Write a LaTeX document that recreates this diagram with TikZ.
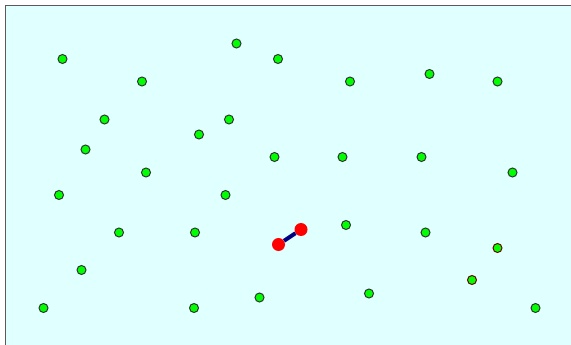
\documentclass[tikz,border=0pt]{standalone}
\usepackage{xcolor}
\usepackage{tikz}
\usetikzlibrary{backgrounds}

\definecolor{fieldbg}{HTML}{E0FFFF}
\definecolor{framegray}{HTML}{5A5A5A}

\begin{document}
\begin{tikzpicture}[
    x=1pt, y=-1pt,
    % Field styling
    field/.style={draw=framegray, line width=1.4pt, fill=fieldbg},
    % Site styling
    site/.style={circle, draw=black!80, line width=1pt, fill=green, inner sep=0pt, minimum size=9pt},
    hitsite/.style={site, draw=red!45!black},
    pick/.style={circle, draw=none, fill=red, inner sep=0pt, minimum size=13pt},
    % Link styling
    link/.style={draw=blue!50!black, line width=4pt}
]

% ---------------------------------------------------
% 1. FIELD (clipped to the picture size)
% ---------------------------------------------------
\useasboundingbox (0,0) rectangle (571,345);
\clip (0,0) rectangle (571,345);
\draw[field] (5.5,5.5) rectangle (590,360);

% ---------------------------------------------------
% 2. SITES (Placed at pixel coordinates)
% ---------------------------------------------------
\node[site] (s1) at (62.5,59) {};
\node[site] (s2) at (236.5,43.5) {};
\node[site] (s3) at (278,59) {};
\node[site] (s4) at (142,81.5) {};
\node[site] (s5) at (350,81.5) {};
\node[site] (s6) at (429.5,74) {};
\node[site] (s7) at (497.5,81.5) {};
\node[site] (s8) at (104.5,119.5) {};
\node[site] (s9) at (229,119.5) {};
\node[site] (s10) at (199,134.5) {};
\node[site] (s11) at (85.5,149.5) {};
\node[site] (s12) at (274.5,157) {};
\node[site] (s13) at (342.5,157) {};
\node[site] (s14) at (421.5,157) {};
\node[site] (s15) at (146,172.5) {};
\node[site] (s16) at (512.5,172.5) {};
\node[site] (s17) at (59,195) {};
\node[site] (s18) at (225.5,195) {};
\node[site] (s19) at (119,232.5) {};
\node[site] (s20) at (195,232.5) {};
\node[site] (s21) at (346,225) {};
\node[site] (s22) at (425.5,232.5) {};
\node[site] (s23) at (81.5,270) {};
\node[site] (s24) at (43.5,308) {};
\node[site] (s25) at (194,308) {};
\node[site] (s26) at (259.5,297.5) {};
\node[site] (s27) at (369,293.5) {};
\node[site] (s28) at (535.5,308) {};

% Sites with a red rim
\node[hitsite] (h1) at (497.5,248) {};
\node[hitsite] (h2) at (472,280) {};

% Picked pair
\node[pick] (pa) at (278.5,244.5) {};
\node[pick] (pb) at (301,229.5) {};

% ---------------------------------------------------
% 3. LINK
% ---------------------------------------------------
\draw[link] (pa) -- (pb);

\end{tikzpicture}
\end{document}
